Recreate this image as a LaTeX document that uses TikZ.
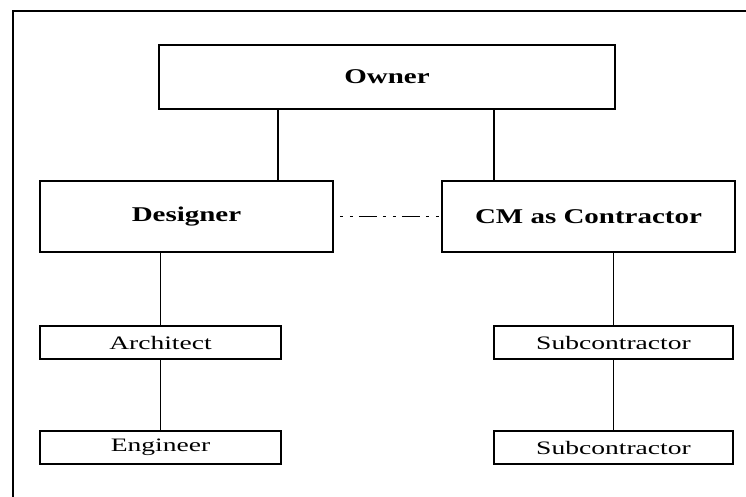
\documentclass[tikz,border=0pt]{standalone}
\usepackage{fontspec}
\setmainfont{Liberation Serif}
\newfontfamily\widebold[FakeStretch=1.38]{Liberation Serif}
\newfontfamily\wideserif[FakeStretch=1.45]{Liberation Serif}
\begin{document}
\begin{tikzpicture}[x=1pt,y=-1pt,
  bigbox/.style={draw,line width=1.7pt,rectangle,inner sep=0pt,minimum width=293pt,minimum height=71pt,font=\widebold\bfseries\fontsize{21}{24}\selectfont},
  smallbox/.style={draw,line width=1.7pt,rectangle,inner sep=0pt,minimum width=241pt,minimum height=33pt,font=\wideserif\fontsize{19}{22}\selectfont},
  link/.style={line width=1.7pt},
  dotlink/.style={line width=1.7pt,dash pattern=on 3pt off 7pt on 3pt off 6pt on 18pt off 6pt,dash phase=37pt}]
\useasboundingbox (0,0) rectangle (746,497);
\clip (0,0) rectangle (746,497);
\draw[line width=1.7pt] (13,520) -- (13,11) -- (760,11);
\node[bigbox,minimum width=456pt,minimum height=64pt] (owner) at (387,77) {Owner};
\node[bigbox] (designer) at (186.5,216.5) {Designer};
\node[bigbox] (cm) at (588.5,216.5) {CM as Contractor};
\node[smallbox] (architect) at (160.5,342.5) {Architect};
\node[smallbox] (engineer) at (160.5,447.5) {Engineer};
\node[smallbox,minimum width=239pt] (sub1) at (613.5,342.5) {Subcontractor};
\node[smallbox,minimum width=239pt] (sub2) at (613.5,447.5) {Subcontractor};
\coordinate (oa) at ([xshift=120pt]owner.south west);
\coordinate (ob) at ([xshift=336pt]owner.south west);
\draw[link] (oa) -- (oa |- designer.north);
\draw[link] (ob) -- (ob |- cm.north);
\draw[dotlink] (designer.east) -- (cm.west);
\draw[link] (designer.south -| architect.north) -- (architect.north);
\draw[link] (architect.south) -- (engineer.north);
\draw[link] (cm.south -| sub1.north) -- (sub1.north);
\draw[link] (sub1.south) -- (sub2.north);
\end{tikzpicture}
\end{document}
